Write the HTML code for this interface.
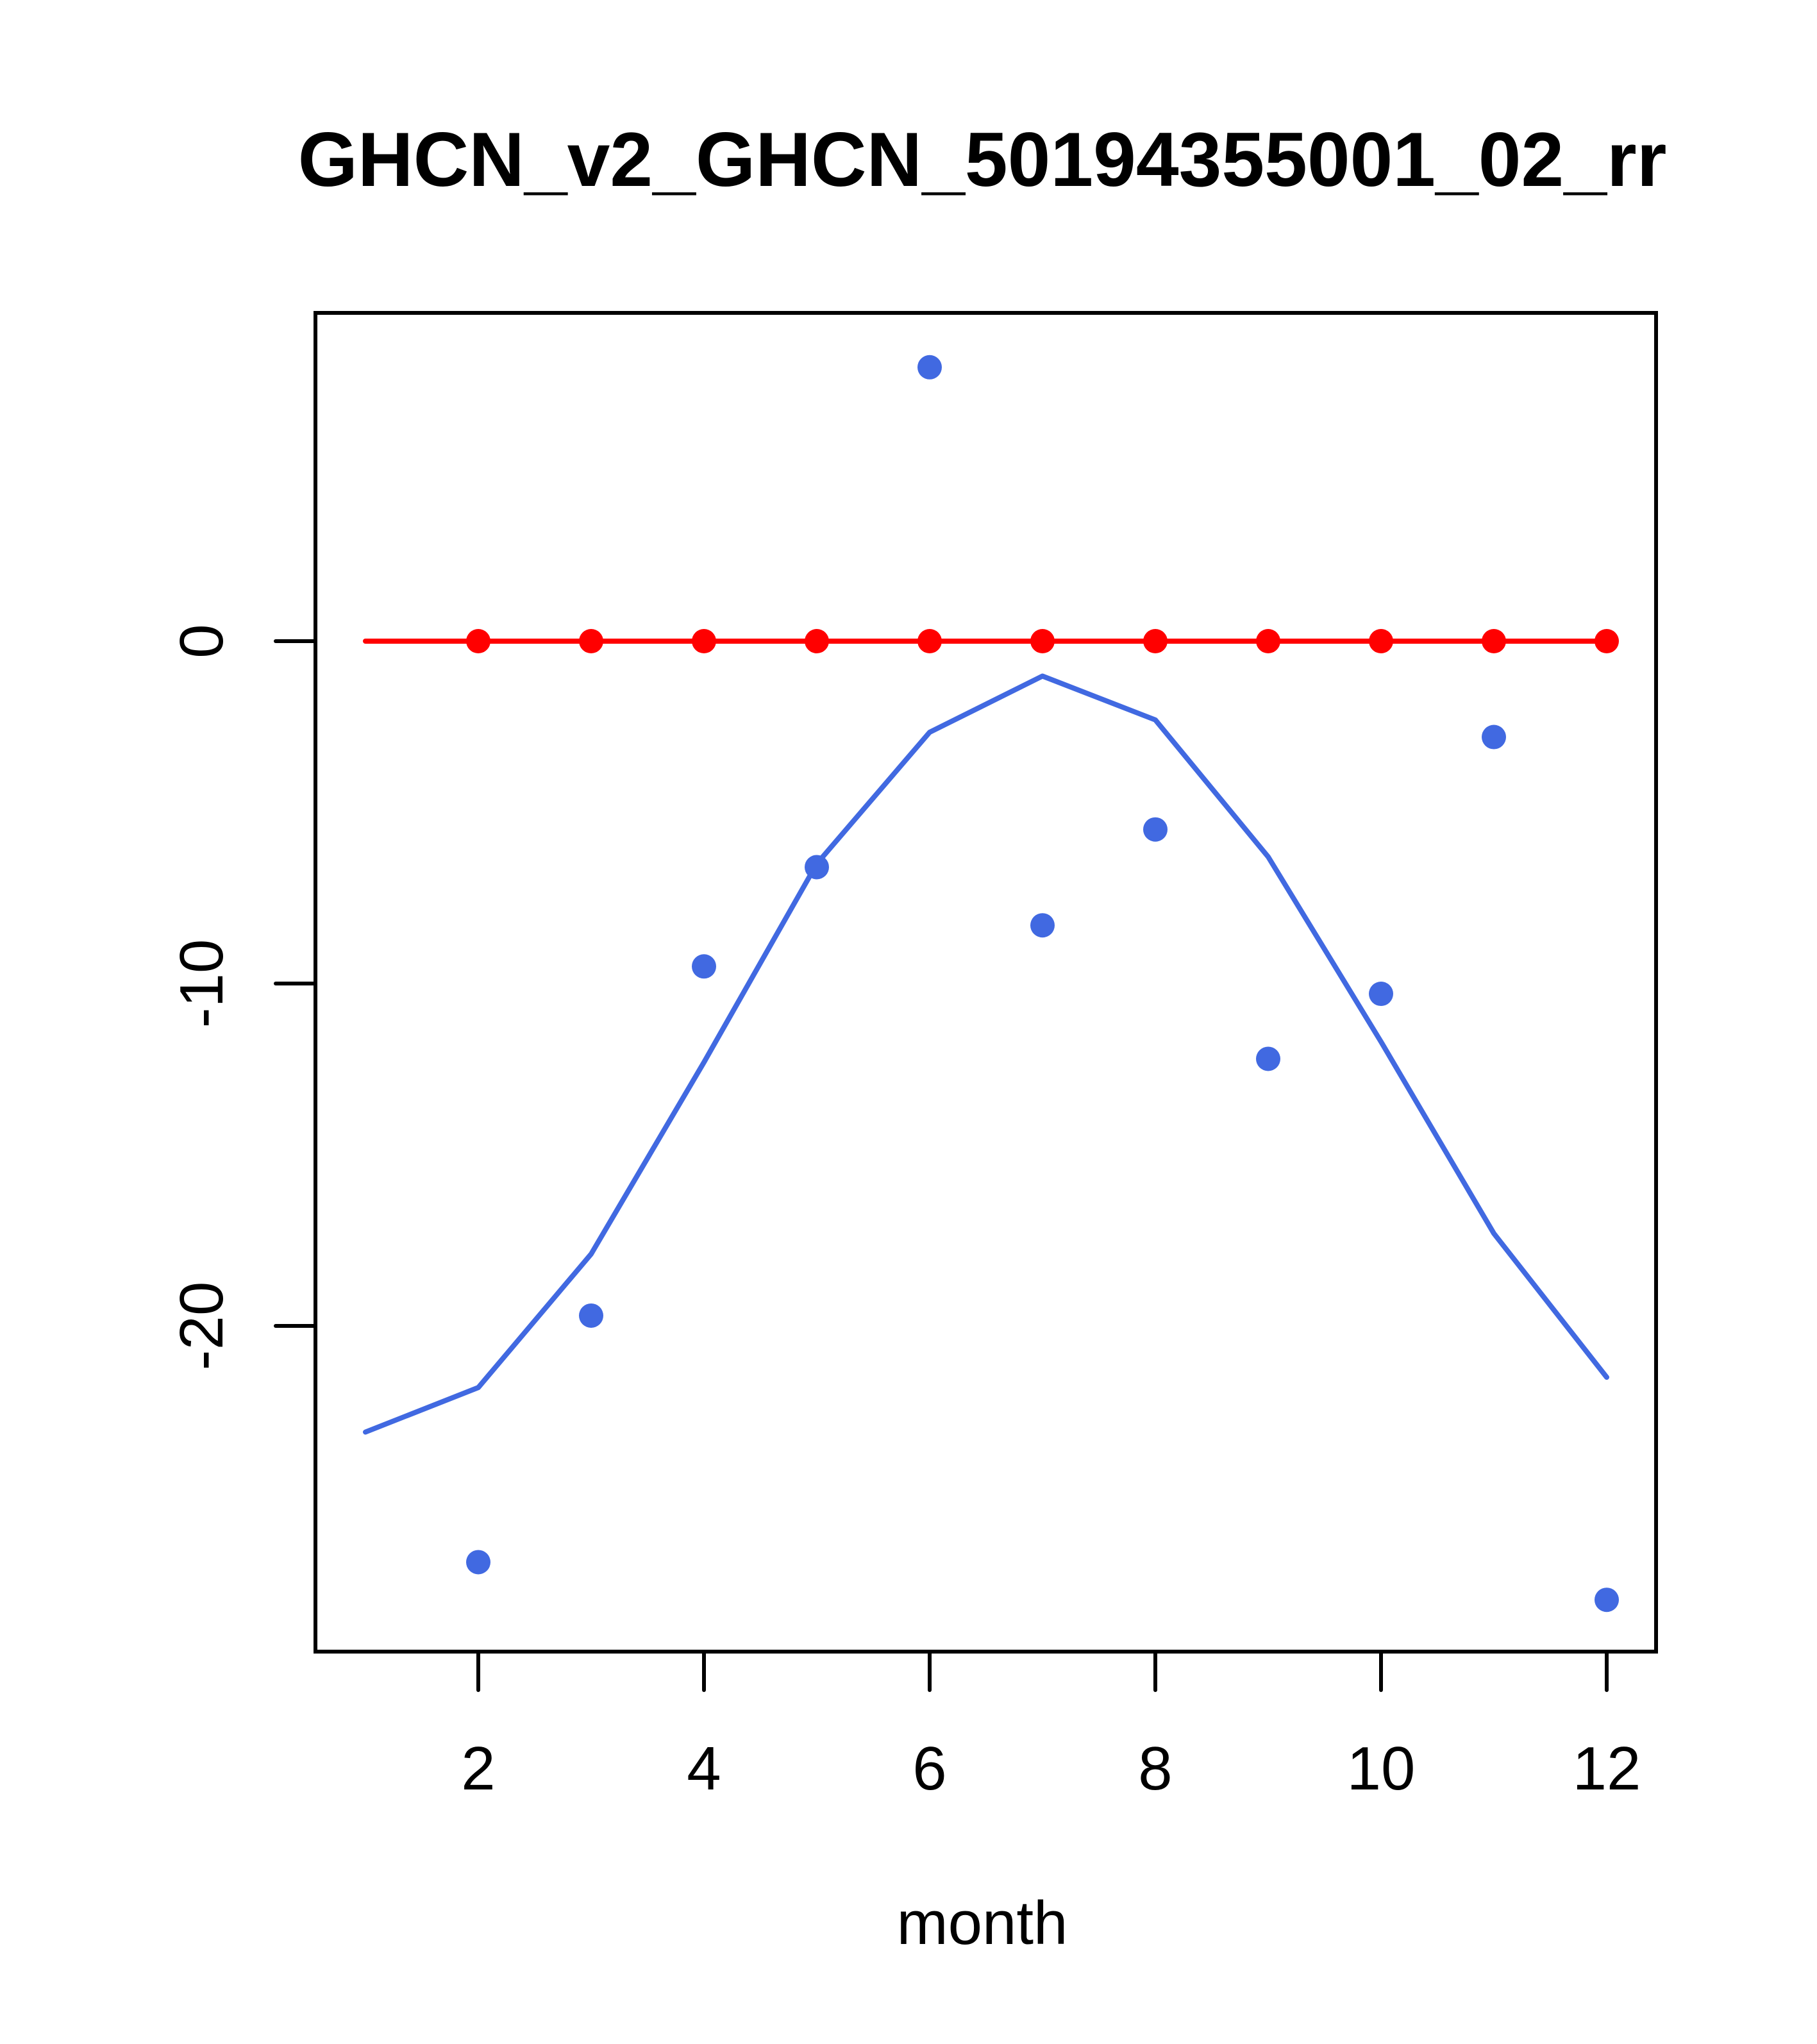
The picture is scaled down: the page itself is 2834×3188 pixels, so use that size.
<!DOCTYPE html>
<html><head><meta charset="utf-8"><style>html,body{margin:0;padding:0;background:#fff}svg{display:block}</style></head>
<body>
<svg width="2834" height="3188" viewBox="0 0 2834 3188" xmlns="http://www.w3.org/2000/svg" font-family="Liberation Sans, Arial, sans-serif">
<rect width="2834" height="3188" fill="#fff"/>
<text x="1532" y="290" font-size="120" font-weight="bold" text-anchor="middle">GHCN_v2_GHCN_50194355001_02_rr</text>
<g id="plot"></g>
<text x="1532" y="3032" font-size="96" text-anchor="middle">month</text>
</svg>
<script>
const months = [1,2,3,4,5,6,7,8,9,10,11,12];
const pointValues = [null,-26.9,-19.7,-9.5,-6.6,8.0,-8.3,-5.5,-12.2,-10.3,-2.8,-28.0];
const lineValues = [-23.1,-21.8,-17.9,-12.3,-6.5,-2.66,-1.02,-2.3,-6.3,-11.7,-17.3,-21.5];
const refValues = [0,0,0,0,0,0,0,0,0,0,0,0];
const refPointMonths = [2,3,4,5,6,7,8,9,10,11,12];
const xTicks = [2,4,6,8,10,12];
const yTicks = [0,-10,-20];

const NS='http://www.w3.org/2000/svg';
const g=document.getElementById('plot');
const X=m=>746+(m-2)*176.0;
const Y=v=>1000-v*53.4;
function mk(t,a){const e=document.createElementNS(NS,t);for(const k in a)e.setAttribute(k,a[k]);g.appendChild(e);return e;}

const box=mk('rect',{x:492,y:488,width:2091,height:2088,fill:'none',stroke:'#000','stroke-width':6});



xTicks.forEach(t=>{
  const l=mk('line',{x1:X(t),x2:X(t),y1:2576,y2:2636,stroke:'#000','stroke-width':6,'stroke-linecap':'round'});
  
  
  const tx=mk('text',{x:X(t),y:2791,'font-size':96,'text-anchor':'middle'});
  tx.textContent=t;
  
  
});
yTicks.forEach(t=>{
  const l=mk('line',{x1:430,x2:492,y1:Y(t),y2:Y(t),stroke:'#000','stroke-width':6,'stroke-linecap':'round'});
  
  
  const tx=mk('text',{x:0,y:0,'font-size':96,'text-anchor':'middle',transform:`translate(347,${Y(t)}) rotate(-90)`});
  tx.textContent=t;
  
  
});

const refLine=mk('polyline',{points:months.map((m,i)=>X(m)+','+Y(refValues[i])).join(' '),fill:'none',stroke:'#ff0000','stroke-width':8,'stroke-linecap':'round'});


refPointMonths.forEach(m=>{
  const c=mk('circle',{cx:X(m),cy:Y(refValues[m-1]),r:19,fill:'#ff0000'});
  
  
});
const line=mk('polyline',{points:months.map((m,i)=>X(m)+','+Y(lineValues[i])).join(' '),fill:'none',stroke:'#4169e1','stroke-width':8,'stroke-linecap':'round','stroke-linejoin':'round'});


months.forEach((m,i)=>{
  if(pointValues[i]===null)return;
  const c=mk('circle',{cx:X(m),cy:Y(pointValues[i]),r:19,fill:'#4169e1'});
  
  
});
</script>
</body></html>
